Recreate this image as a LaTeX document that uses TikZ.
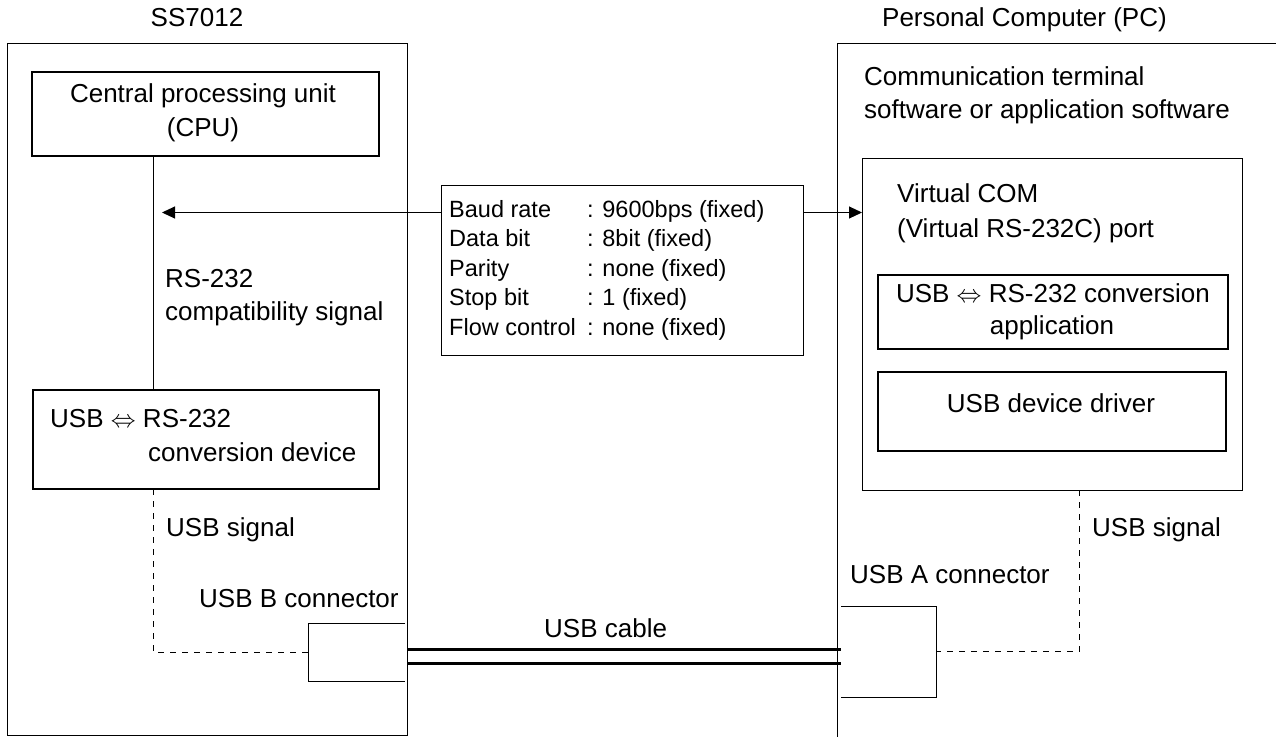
\documentclass[tikz,border=0pt]{standalone}
\usepackage{fontspec}
\setmainfont{Liberation Sans}
\usetikzlibrary{arrows.meta}
\begin{document}
\begin{tikzpicture}[x=1pt,y=-1pt,
  frame/.style={draw, line width=1pt, inner sep=0pt, outer sep=0pt, anchor=north west},
  boldbox/.style={draw, line width=2.6pt, inner sep=0pt, outer sep=0pt, anchor=north west},
  slot/.style={inner sep=0pt, outer sep=0pt, anchor=north west},
  txt/.style={font=\fontsize{26}{34}\selectfont, inner sep=0pt, anchor=base west},
  ctxt/.style={font=\fontsize{26}{34}\selectfont, inner sep=0pt, anchor=base},
  signal/.style={line width=1pt, dash pattern=on 6pt off 6pt},
  wire/.style={line width=1pt},
  cable/.style={line width=3pt},
  arr/.style={line width=1pt, -{Triangle[length=13pt,width=12pt]}}
]
\useasboundingbox (0,0) rectangle (1276,737);

% frames
\node[frame, minimum width=400pt, minimum height=692.5pt] (ss) at (7,43) {};
\coordinate (pctl) at (837,43);
\coordinate (pctr) at (1276,43);
\coordinate (pcbl) at (837,737);
\draw[wire] (pctr) -- (pctl) -- (pcbl);

% titles
\node[ctxt] (sslabel) at (197,26) {SS7012};
\node[txt, anchor=base east] (pclabel) at (1167,26) {Personal Computer (PC)};

% left side boxes
\node[boldbox, minimum width=347pt, minimum height=84pt] (cpu) at (32,72) {};
\node[ctxt] (cpu1) at (203,102) {Central processing unit};
\node[ctxt] (cpu2) at (203,136) {(CPU)};

\node[boldbox, minimum width=346pt, minimum height=99pt] (conv) at (33,390) {};
\node[txt] (conv1) at (50,427) {USB \ensuremath{\Leftrightarrow} RS-232};
\node[txt] (conv2) at (148,461) {conversion device};

\node[txt] (rs1) at (165,287) {RS-232};
\node[txt] (rs2) at (165,320) {compatibility signal};
\node[txt] (usbs1) at (166,536) {USB signal};
\node[txt] (bcon) at (199,607) {USB B connector};

\node[slot, minimum width=97pt, minimum height=58pt] (bconn) at (308,623) {};
\draw[wire] (bconn.north east) -- (bconn.north west) -- (bconn.south west) -- (bconn.south east);

% data box
\node[frame, minimum width=362pt, minimum height=170pt] (data) at (441,185) {};
\node[inner sep=0pt, anchor=base west, font=\fontsize{23.5}{29.5}\selectfont] (params) at (449,217)
 {\begin{tabular}[t]{@{}p{138pt}@{}l@{}}
 Baud rate & : 9600bps (fixed)\\
 Data bit & : 8bit (fixed)\\
 Parity & : none (fixed)\\
 Stop bit & : 1 (fixed)\\
 Flow control & : none (fixed)
 \end{tabular}};

% right side
\node[txt] (comm1) at (864,85) {Communication terminal};
\node[txt] (comm2) at (864,118) {software or application software};

\node[frame, minimum width=380pt, minimum height=332pt] (vcom) at (862,158) {};
\node[txt] (vc1) at (897,202) {Virtual COM};
\node[txt] (vc2) at (897,237) {(Virtual RS-232C) port};

\node[boldbox, minimum width=350pt, minimum height=74pt] (app) at (878,275) {};
\node[ctxt] (app1) at (1053,302) {USB \ensuremath{\Leftrightarrow} RS-232 conversion};
\node[ctxt] (app2) at (1052,334) {application};

\node[boldbox, minimum width=348pt, minimum height=79pt] (drv) at (878,372) {};
\node[ctxt] (drv1) at (1051,412) {USB device driver};

\node[txt] (usbs2) at (1092,536) {USB signal};
\node[txt] (acon) at (850,583) {USB A connector};

\node[slot, minimum width=95pt, minimum height=91pt] (aconn) at (841,606) {};
\draw[wire] (aconn.north west) -- (aconn.north east) -- (aconn.south east) -- (aconn.south west);

% connectors
\coordinate (lx) at (153,0);
\coordinate (rx) at (1079,0);
\coordinate (ay) at (0,212.5);
\coordinate (ltip) at (162,212.5);
\draw[wire] (cpu.south -| lx) -- (conv.north -| lx);
\draw[signal] (conv.south -| lx) -- (lx |- bconn.west) -- (bconn.west);
\draw[signal] (vcom.south -| rx) -- (rx |- aconn.east) -- (aconn.east);
\draw[arr] (data.west |- ay) -- (ltip);
\draw[arr] (data.east |- ay) -- (vcom.west |- ay);

% cable
\coordinate (cab1) at (0,649.5);
\coordinate (cab2) at (0,663);
\node[txt] (cablelabel) at (544,637) {USB cable};
\draw[cable] (ss.east |- cab1) -- (aconn.west |- cab1);
\draw[cable] (ss.east |- cab2) -- (aconn.west |- cab2);
\end{tikzpicture}
\end{document}
